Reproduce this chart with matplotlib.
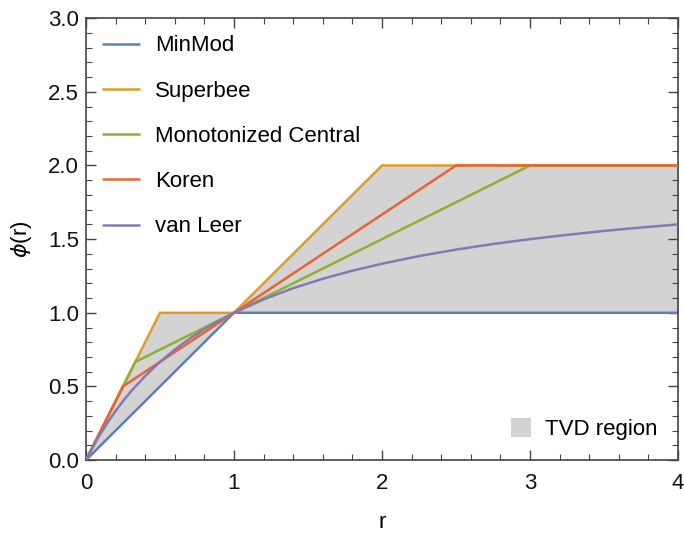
#!/usr/bin/env python3
"""Flux limiter functions and the TVD region"""

import numpy as np
import matplotlib; matplotlib.use('Agg')
import matplotlib.pyplot as plt
from matplotlib.patches import Patch
from matplotlib.ticker import MultipleLocator

# breakpoints
minmod_r = [0, 1, 4]
minmod_phi = [0, 1, 1]
superbee_r = [0, 0.5, 1, 2, 4]
superbee_phi = [0, 1, 1, 2, 2]
mc_r = [0, 1/3, 3, 4]
mc_phi = [0, 2/3, 2, 2]
koren_r = [0, 0.25, 2.5, 4]
koren_phi = [0, 0.5, 2, 2]
vanleer_r = [0, 0.025, 0.05, 0.075, 0.1, 0.15, 0.2, 0.25, 0.3, 0.4, 0.5, 0.6, 0.7,
             0.8, 0.9, 1.0, 1.2, 1.4, 1.6, 1.8, 2.0, 2.25, 2.5, 2.75, 3.0, 3.25,
             3.5, 3.75, 4.0]
vanleer_phi = [0, 0.049, 0.095, 0.140, 0.182, 0.261, 0.333, 0.400, 0.462, 0.571,
               0.667, 0.750, 0.824, 0.889, 0.947, 1.0, 1.091, 1.167, 1.231, 1.286,
               1.333, 1.385, 1.429, 1.467, 1.5, 1.529, 1.556, 1.579, 1.6]

labels = ['MinMod', 'Superbee', 'Monotonized Central', 'Koren', 'van Leer']
colors = ['#5E81B5', '#E19C24', '#8FB032', '#EB6235', '#8778B3']

plt.rcParams['font.family'] = ['Liberation Sans', 'DejaVu Sans']
plt.rcParams['mathtext.fontset'] = 'dejavusans'

fig = plt.figure(figsize=(6.84, 5.35), dpi=100)
ax = fig.add_axes([0.1257, 0.140, 0.8655, 0.826])

# TVD region between minmod and superbee
rr = np.array(sorted(set(minmod_r) | set(superbee_r)), dtype=float)
ax.fill_between(rr, np.interp(rr, minmod_r, minmod_phi),
                np.interp(rr, superbee_r, superbee_phi),
                color='#D3D3D3', lw=0, zorder=1)

series = [(minmod_r, minmod_phi), (superbee_r, superbee_phi), (mc_r, mc_phi),
          (koren_r, koren_phi), (vanleer_r, vanleer_phi)]
handles = []
for i, (x, y) in enumerate(series):
    h, = ax.plot(x, y, color=colors[i], lw=1.8, label=labels[i],
                 zorder=2 + i, solid_capstyle='butt', solid_joinstyle='miter')
    handles.append(h)

ax.set_xlim(0, 4)
ax.set_ylim(0, 3)
ax.xaxis.set_major_locator(MultipleLocator(1))
ax.xaxis.set_minor_locator(MultipleLocator(0.2))
ax.yaxis.set_major_locator(MultipleLocator(0.5))
ax.yaxis.set_minor_locator(MultipleLocator(0.1))
ax.yaxis.set_major_formatter(plt.FuncFormatter(lambda v, p: '{:.1f}'.format(v)))
ax.tick_params(which='both', direction='in', top=True, right=True,
               color='#444444', labelsize=16, labelcolor='#111111')
ax.tick_params(which='major', length=7, width=1)
ax.tick_params(which='minor', length=4, width=0.8)
ax.tick_params(axis='x', which='major', pad=9)
ax.tick_params(axis='y', which='major', pad=5)
for s in ax.spines.values():
    s.set_color('#444444')
    s.set_linewidth(1.2)

ax.set_xlabel('r', fontsize=16, labelpad=13)
ax.set_ylabel(r'$\phi$(r)', fontsize=16, labelpad=10)

leg1 = ax.legend(handles=handles, loc='upper left', fontsize=16, frameon=False,
                 handlelength=1.7, handletextpad=0.7, labelspacing=1.09,
                 borderpad=0, borderaxespad=0, bbox_to_anchor=(0.027, 0.961))
ax.add_artist(leg1)
ax.legend(handles=[Patch(facecolor='#D3D3D3', edgecolor='none')],
          labels=['TVD region'], loc='lower right', fontsize=16, frameon=False,
          handlelength=0.9, handleheight=0.9, handletextpad=0.65,
          borderpad=0, borderaxespad=0, bbox_to_anchor=(0.966, 0.045))

plt.savefig('out.png', dpi=100)
